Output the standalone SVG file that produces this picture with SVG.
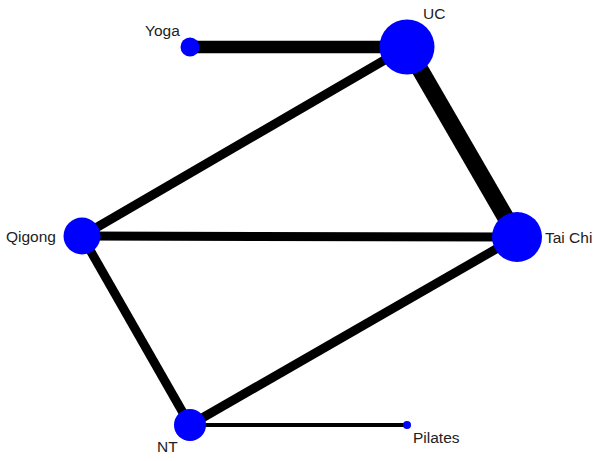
<svg xmlns="http://www.w3.org/2000/svg" width="597" height="461" viewBox="0 0 597 461">
<style>
.e{stroke:#000;stroke-linecap:butt;fill:none}
.n{fill:#0000ff}
text{font-family:"Liberation Sans",Arial,sans-serif;font-size:15.5px;fill:#222}
</style>
<rect width="597" height="461" fill="#fff"/>
<g id="connectors">
<line class="e" x1="190" y1="47" x2="407" y2="47" stroke-width="12.5"/>
<line class="e" x1="407" y1="47" x2="517" y2="237" stroke-width="17"/>
<line class="e" x1="407" y1="47" x2="82" y2="236" stroke-width="9"/>
<line class="e" x1="82" y1="236" x2="517" y2="237" stroke-width="9"/>
<line class="e" x1="82" y1="236" x2="190" y2="425" stroke-width="9"/>
<line class="e" x1="190" y1="425" x2="517" y2="237" stroke-width="9"/>
<line class="e" x1="190" y1="425" x2="407" y2="425" stroke-width="4"/>
</g>
<g id="node-yoga"><circle class="n" cx="190" cy="47" r="9.5"/><text x="145" y="36">Yoga</text></g>
<g id="node-uc"><circle class="n" cx="407" cy="47" r="27.5"/><text x="423" y="19">UC</text></g>
<g id="node-qigong"><circle class="n" cx="82" cy="236" r="18.5"/><text x="6" y="242">Qigong</text></g>
<g id="node-taichi"><circle class="n" cx="517" cy="237" r="25"/><text x="545" y="243">Tai Chi</text></g>
<g id="node-nt"><circle class="n" cx="190" cy="425" r="16"/><text x="157" y="452">NT</text></g>
<g id="node-pilates"><circle class="n" cx="407" cy="425" r="4"/><text x="413" y="443">Pilates</text></g>
</svg>
